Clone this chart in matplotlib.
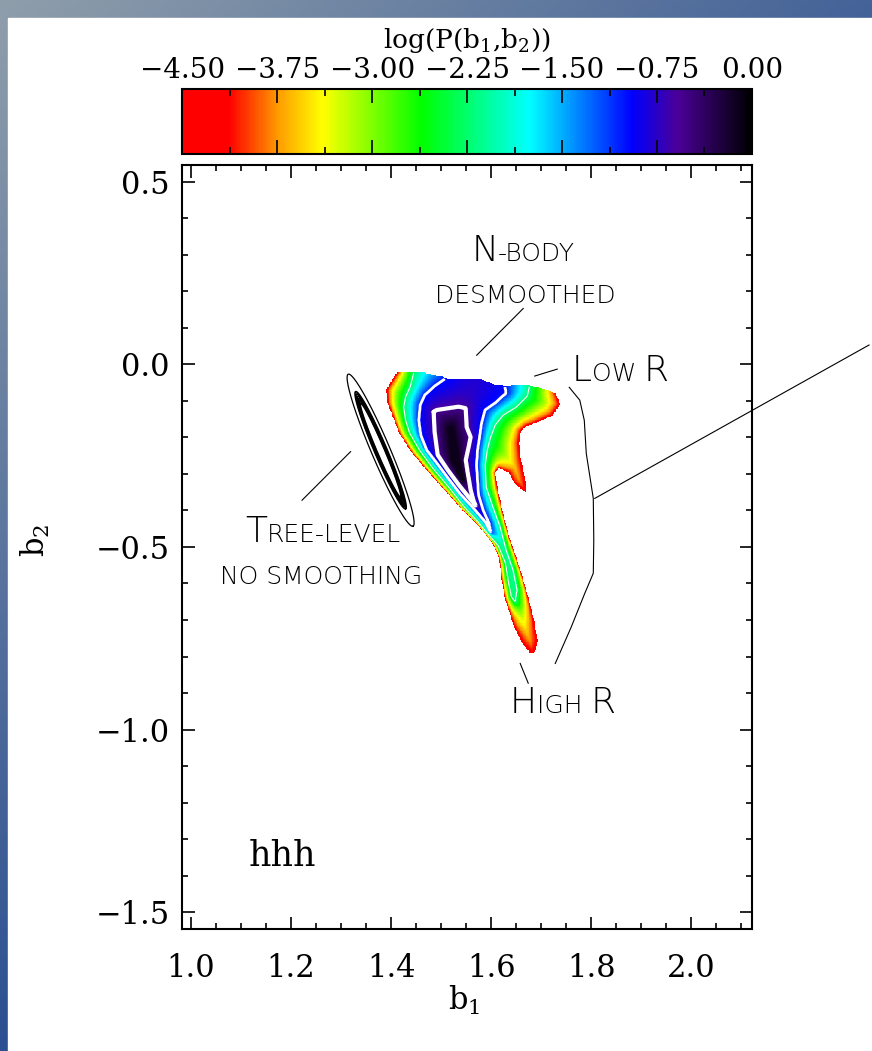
import numpy as np
import matplotlib
matplotlib.use("Agg")
from matplotlib import pyplot as plt  # noqa
from matplotlib.colors import LinearSegmentedColormap
from matplotlib.path import Path
from matplotlib.patches import Rectangle
from matplotlib.offsetbox import TextArea, HPacker, AnnotationBbox
from matplotlib.ticker import MultipleLocator, FuncFormatter

plt.rcParams['font.family'] = 'DejaVu Serif'
plt.rcParams['mathtext.fontset'] = 'dejavuserif'

# log P(b1, b2) level of each outline, outer to inner
LEVELS = [-4.5, -2.25, -1.0, -0.6, -0.12]
CONTOUR_LEVELS = [-2.25, -1.0, -0.6]

OUTER_B1 = [1.405, 1.720, 1.727, 1.737, 1.720, 1.687, 1.668, 1.658, 1.654, 1.658, 1.664, 1.668, 1.668, 1.644,
            1.634, 1.614, 1.607, 1.611, 1.621, 1.634, 1.648, 1.661, 1.674, 1.684, 1.691, 1.687, 1.677, 1.661,
            1.644, 1.627, 1.620, 1.614, 1.601, 1.575, 1.541, 1.508, 1.475, 1.441, 1.415, 1.405, 1.392, 1.390,
            1.402, 1.412]
OUTER_B2 = [0.15, 0.15, -0.076, -0.111, -0.143, -0.162, -0.171, -0.185, -0.216, -0.262, -0.298, -0.335, -0.353,
            -0.326, -0.298, -0.285, -0.298, -0.335, -0.399, -0.472, -0.527, -0.582, -0.645, -0.700, -0.755,
            -0.787, -0.791, -0.764, -0.719, -0.645, -0.591, -0.527, -0.490, -0.445, -0.399, -0.349, -0.298,
            -0.244, -0.189, -0.153, -0.107, -0.070, -0.043, -0.023]

THIN_B1 = [1.445, 1.677, 1.677, 1.672, 1.650, 1.624, 1.608, 1.598, 1.592, 1.588, 1.590, 1.602, 1.618, 1.630,
           1.644, 1.652, 1.648, 1.640, 1.634, 1.628, 1.614, 1.592, 1.574, 1.547, 1.515, 1.483, 1.457, 1.437,
           1.429, 1.425, 1.429, 1.438, 1.445]
THIN_B2 = [0.15, 0.15, -0.057, -0.087, -0.117, -0.139, -0.166, -0.202, -0.235, -0.276, -0.336, -0.385, -0.445,
           -0.508, -0.563, -0.618, -0.651, -0.637, -0.596, -0.544, -0.497, -0.462, -0.432, -0.392, -0.336,
           -0.284, -0.235, -0.188, -0.153, -0.117, -0.089, -0.062, -0.024]

MID_B1 = [1.507, 1.628, 1.628, 1.630, 1.608, 1.588, 1.581, 1.577, 1.573, 1.571, 1.573, 1.575, 1.584, 1.596,
          1.600, 1.588, 1.564, 1.538, 1.515, 1.491, 1.471, 1.459, 1.455, 1.458, 1.467, 1.487, 1.507]
MID_B2 = [0.15, 0.15, -0.061, -0.079, -0.106, -0.125, -0.161, -0.199, -0.235, -0.276, -0.317, -0.358, -0.399,
          -0.435, -0.462, -0.432, -0.393, -0.355, -0.314, -0.270, -0.235, -0.194, -0.153, -0.111, -0.084,
          -0.059, -0.040]

CORE_B1 = [1.491, 1.535, 1.549, 1.551, 1.559, 1.555, 1.549, 1.553, 1.559, 1.566, 1.572, 1.558, 1.537, 1.513,
           1.493, 1.487, 1.485]
CORE_B2 = [-0.125, -0.116, -0.120, -0.172, -0.199, -0.226, -0.262, -0.298, -0.344, -0.378, -0.392, -0.369,
           -0.333, -0.289, -0.248, -0.185, -0.130]

PEAK_B1 = [1.512, 1.522, 1.530, 1.545, 1.540, 1.518]
PEAK_B2 = [-0.175, -0.170, -0.225, -0.318, -0.322, -0.262]

# the sample stops at b2 ~ 0: upper edge of the map
CUT_B1 = [1.409, 1.465, 1.475, 1.498, 1.511, 1.575, 1.607, 1.628, 1.668, 1.707, 1.727, 1.737]
CUT_B2 = [-0.023, -0.023, -0.029, -0.034, -0.041, -0.041, -0.057, -0.061, -0.057, -0.070, -0.081, -0.111]

# tree-level contours (ellipses)
TREE_CENTER = (1.379, -0.235)
TREE_MAJOR = (0.0647, -0.2081)
TREE_MINOR = (0.0172, 0.0101)
TREE_A = [1.0, 0.77, 0.74, 0.71, 0.68, 0.65, 0.62]
TREE_B = [1.0, 0.66, 0.61, 0.56, 0.51, 0.46, 0.41]

LABEL_TEXT = ['N-body', 'desmoothed', 'Low R', 'Tree-level', 'no smoothing', 'High R']
LABEL_B1 = [1.664, 1.669, 1.858, 1.264, 1.260, 1.742]
LABEL_B2 = [0.286, 0.176, -0.041, -0.483, -0.591, -0.951]

POINTER_B1 = [[1.664, 1.571], [1.732, 1.687], [1.222, 1.319], [1.658, 1.674]]
POINTER_B2 = [[0.153, 0.025], [-0.013, -0.032], [-0.372, -0.239], [-0.819, -0.873]]

BRACE_B1 = [1.756, 1.777, 1.786, 1.790, 1.804, 1.805, 1.804, 1.787, 1.760, 1.728]
BRACE_B2 = [-0.063, -0.098, -0.153, -0.244, -0.367, -0.481, -0.572, -0.627, -0.719, -0.819]
LEADER_B1 = [1.807, 2.355]
LEADER_B2 = [-0.367, 0.053]

CBAR_TICKS = [-4.5, -3.75, -3.0, -2.25, -1.5, -0.75, 0.0]

cmap = LinearSegmentedColormap.from_list('idl_rainbow', list(zip(
    [0.0, 0.08, 0.17, 0.245, 0.42, 0.61, 0.79, 0.87, 1.0],
    ['#ff0000', '#ff0000', '#ffa000', '#ffff00', '#00ff00', '#00ffff', '#0000ff', '#4a0099', '#000000'])))


def edge_distance(pts, verts):
    v = np.vstack([verts, verts[:1]])
    d = np.full(len(pts), np.inf)
    for a, b in zip(v[:-1], v[1:]):
        ab = b - a
        t = np.clip(((pts - a) @ ab) / (ab @ ab), 0, 1)
        d = np.minimum(d, np.hypot(*(pts - a - t[:, None] * ab).T))
    return d


def small_caps(ax, text, x, y, big=26, small=18):
    runs = []
    for ch in text:
        size = big if ch.isupper() else small
        if runs and runs[-1][1] == size:
            runs[-1][0] += ch.upper()
        else:
            runs.append([ch.upper(), size])
    boxes = [TextArea(s, textprops=dict(fontsize=fs, family='DejaVu Sans', weight=200, color='black'))
             for s, fs in runs]
    pack = HPacker(children=boxes, align='baseline', pad=0, sep=0)
    ab = AnnotationBbox(pack, (x, y), xycoords='data', xybox=(0, -6), boxcoords='offset points',
                        frameon=False, box_alignment=(0.5, 0.0), pad=0, annotation_clip=False)
    ax.add_artist(ab)


fig = plt.figure(figsize=(8.72, 10.51), dpi=100)

# slide background
bg = fig.add_axes([0, 0, 1, 1], zorder=-10)
bg.axis('off')
u, v = np.meshgrid(np.linspace(0, 1, 200), np.linspace(0, 1, 240))
mix = np.clip(0.75 * u + v, 0, 1)[..., None]
grad = np.array([0.56, 0.62, 0.67]) * (1 - mix) + np.array([0.17, 0.31, 0.57]) * mix
bg.imshow(grad, extent=[0, 1, 0, 1], origin='upper', aspect='auto')
bg.add_patch(Rectangle((8 / 872, 0), 1, 1 - 18 / 1051, color='white', transform=bg.transAxes))
bg.set_xlim(0, 1)
bg.set_ylim(0, 1)

ax = fig.add_axes([0.2092, 0.1161, 0.6531, 0.7266])
cax = fig.add_axes([0.2092, 0.8532, 0.6531, 0.0618])
ax.set_xlim(0.983, 2.121)
ax.set_ylim(-1.546, 0.545)

# rebuild the map from the traced outlines (distances measured on screen)
polys = [ax.transData.transform(np.column_stack(p)) for p in
         [(OUTER_B1, OUTER_B2), (THIN_B1, THIN_B2), (MID_B1, MID_B2), (CORE_B1, CORE_B2), (PEAK_B1, PEAK_B2)]]
gx = np.arange(1.38, 1.75, 0.0015)
gy = np.arange(-0.80, 0.0, 0.002)
GX, GY = np.meshgrid(gx, gy)
pts = ax.transData.transform(np.column_stack([GX.ravel(), GY.ravel()]))
inside = [Path(p).contains_points(pts) for p in polys]
dist = [edge_distance(pts, p) for p in polys]
field = np.full(len(pts), np.nan)
for k in range(len(LEVELS)):
    if k + 1 < len(LEVELS):
        frac = dist[k] / (dist[k] + dist[k + 1])
        if k == 0:
            frac = frac ** 0.6
        val = LEVELS[k] + (LEVELS[k + 1] - LEVELS[k]) * frac
    else:
        val = np.full(len(pts), LEVELS[k])
    field[inside[k]] = val[inside[k]]
field[~inside[0]] = np.nan
field[GY.ravel() > np.interp(GX.ravel(), CUT_B1, CUT_B2)] = np.nan
field = np.ma.masked_invalid(field.reshape(GX.shape))

im = ax.imshow(field, extent=[gx[0] - 0.00075, gx[-1] + 0.00075, gy[0] - 0.001, gy[-1] + 0.001],
               origin='lower', cmap=cmap, vmin=-4.5, vmax=0, interpolation='nearest', aspect='auto', zorder=1)
ax.contour(GX, GY, field, levels=CONTOUR_LEVELS, colors='white', linewidths=[0.8, 2.0, 3.0],
           linestyles='solid', zorder=2)

t = np.linspace(0, 2 * np.pi, 300)
for a, b in zip(TREE_A, TREE_B):
    ex = TREE_CENTER[0] + a * TREE_MAJOR[0] * np.cos(t) + b * TREE_MINOR[0] * np.sin(t)
    ey = TREE_CENTER[1] + a * TREE_MAJOR[1] * np.cos(t) + b * TREE_MINOR[1] * np.sin(t)
    ax.plot(ex, ey, color='black', lw=0.9 if a == 1.0 else 1.2, zorder=3)

# annotations
for txt, x, y in zip(LABEL_TEXT, LABEL_B1, LABEL_B2):
    small_caps(ax, txt, x, y)
for xs, ys in zip(POINTER_B1, POINTER_B2):
    ax.plot(xs, ys, color='black', lw=0.8, zorder=4)
ax.plot(BRACE_B1, BRACE_B2, color='black', lw=0.8, zorder=4)
ax.plot(LEADER_B1, LEADER_B2, color='black', lw=0.8, zorder=4, clip_on=False)
ax.text(1.116, -1.374, 'hhh', fontsize=25, ha='left', va='baseline')

ax.xaxis.set_major_locator(MultipleLocator(0.2))
ax.xaxis.set_minor_locator(MultipleLocator(0.05))
ax.yaxis.set_major_locator(MultipleLocator(0.5))
ax.yaxis.set_minor_locator(MultipleLocator(0.1))
ax.tick_params(which='both', direction='in', top=True, right=True, width=1.2, labelsize=22)
ax.tick_params(which='major', length=9)
ax.tick_params(which='minor', length=4.5)
ax.tick_params(axis='x', pad=17)
ax.tick_params(axis='y', pad=9)
for s in ax.spines.values():
    s.set_linewidth(1.5)
ax.set_xlabel(r'b$_1$', fontsize=22)
ax.set_ylabel(r'b$_2$', fontsize=22)
ax.xaxis.set_label_coords(0.4945, -0.072)
ax.yaxis.set_label_coords(-0.229, 0.509)

cb = fig.colorbar(im, cax=cax, orientation='horizontal', ticks=CBAR_TICKS)
cb.outline.set_linewidth(1.5)
cax.xaxis.set_minor_locator(MultipleLocator(0.375))
cax.xaxis.set_major_formatter(FuncFormatter(lambda val, pos: ('%.2f' % (val + 0.0)).replace('-', '\u2212')))
cax.tick_params(axis='x', which='both', direction='in', top=True, bottom=True, labeltop=True,
                labelbottom=False, width=1.2, labelsize=20, pad=4)
cax.tick_params(axis='x', which='major', length=10)
cax.tick_params(axis='x', which='minor', length=5)
cax.xaxis.set_label_position('top')
cb.set_label(r'log(P(b$_1$,b$_2$))', fontsize=19, labelpad=6)

fig.savefig('out.png', dpi=100)
